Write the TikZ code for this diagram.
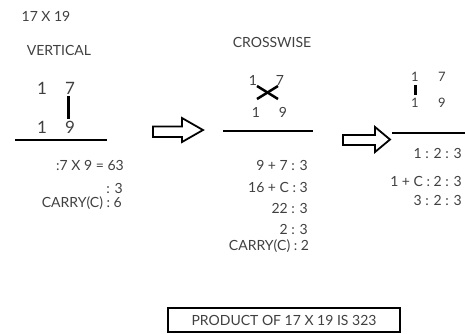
\documentclass[tikz,border=0pt]{standalone}
\usepackage{fontspec}
\setmainfont{Lato}
\begin{document}
\begin{tikzpicture}[x=1pt,y=-1pt,
  txt/.style={inner sep=0pt,font=\fontsize{14}{15}\selectfont,text=black!75},
  rtxt/.style={txt,anchor=east},
  bigdig/.style={inner sep=0pt,font=\fontsize{17}{18}\selectfont,text=black!75},
  meddig/.style={inner sep=0pt,font=\fontsize{14}{15}\selectfont,text=black!75},
  smalldig/.style={inner sep=0pt,font=\fontsize{13}{14}\selectfont,text=black!75},
  rule/.style={line width=2pt,black},
  hollow/.style={line width=1.8pt,black,line join=miter,fill=white}]
\useasboundingbox (0,0) rectangle (465,333);
% column 1
\node[txt] (title) at (46,16.5) {17 X 19};
\node[txt] (vert) at (59,50) {VERTICAL};
\node[bigdig] (a1) at (42,88) {1};
\node[bigdig] (a7) at (70,88) {7};
\node[bigdig] (b1) at (42,127) {1};
\node[bigdig] (b9) at (70,127) {9};
\coordinate (v1) at (68,96); \coordinate (v2) at (68,119);
\draw[line width=3pt] (v1) -- (v2);
\coordinate (l1a) at (15,140); \coordinate (l1b) at (107,140);
\draw[rule] (l1a) -- (l1b);
\node[txt] (r1a) at (90,165) {:7 X 9 = 63};
\node[rtxt] (r1b) at (123,188) {: 3};
\node[rtxt] (r1c) at (122,203) {CARRY(C) : 6};
% arrow 1
\draw[hollow] (153,126.5) -- (182,126.5) -- (182,118) -- (203,130) -- (182,142) -- (182,137) -- (153,137) -- cycle;
% column 2
\node[txt] (cross) at (272,42) {CROSSWISE};
\node[meddig] (c1) at (253,80) {1};
\node[meddig] (c7) at (280,80) {7};
\node[meddig] (d1) at (256,112) {1};
\node[meddig] (d9) at (283,112) {9};
\coordinate (x1) at (257,86); \coordinate (x2) at (278,99);
\coordinate (x3) at (278,86); \coordinate (x4) at (257,99);
\draw[line width=2.5pt] (x1) -- (x2);
\draw[line width=2.5pt] (x3) -- (x4);
\coordinate (l2a) at (223,131); \coordinate (l2b) at (313,131);
\draw[rule] (l2a) -- (l2b);
\node[rtxt] (r2a) at (308,165) {9 + 7 : 3};
\node[rtxt] (r2b) at (308,187) {16 + C : 3};
\node[rtxt] (r2c) at (308,208) {22 : 3};
\node[rtxt] (r2d) at (308,229) {2 : 3};
\node[txt] (r2e) at (269,246) {CARRY(C) : 2};
% arrow 2
\draw[hollow] (343,135) -- (375,135) -- (375,127) -- (390,139.5) -- (375,152) -- (375,145) -- (343,145) -- cycle;
% column 3
\node[smalldig] (e1) at (415,77) {1};
\node[smalldig] (e7) at (442,77) {7};
\node[smalldig] (f1) at (415,103) {1};
\node[smalldig] (f9) at (442,103) {9};
\coordinate (w1) at (415,85); \coordinate (w2) at (415,95);
\draw[line width=3pt] (w1) -- (w2);
\coordinate (l3a) at (392,133); \coordinate (l3b) at (465,133);
\draw[rule] (l3a) -- (l3b);
\node[rtxt] (r3a) at (462,153) {1 : 2 : 3};
\node[rtxt] (r3b) at (462,181) {1 + C : 2 : 3};
\node[rtxt] (r3c) at (462,200) {3 : 2 : 3};
% result box
\node[draw=black,line width=1.8pt,minimum width=232pt,minimum height=24pt,inner sep=0pt,
  font=\fontsize{14}{15}\selectfont,text=black!75] (prod) at (284,320) {PRODUCT OF 17 X 19 IS 323};
\end{tikzpicture}
\end{document}
